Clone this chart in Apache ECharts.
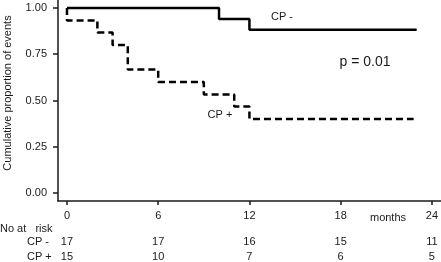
<!DOCTYPE html>
<html>
<head>
<meta charset="utf-8">
<script src="https://cdn.jsdelivr.net/npm/echarts@6/dist/echarts.min.js"></script>
<style>
  html, body { margin: 0; padding: 0; background: #fff; }
  #chart { width: 441px; height: 262px; }
</style>
</head>
<body>
<div id="chart"></div>
<script>
// months shown on the x axis and the y tick values
const monthTicks = [0, 6, 12, 18, 24];
const yTicks = [0, 0.25, 0.5, 0.75, 1];

// Kaplan-Meier steps: [month, proportion]
const cpNeg = [[0, 1], [10, 0.941], [12, 0.882], [23, 0.882]];
const cpPos = [[0, 1], [0, 0.933], [2, 0.867], [3, 0.8], [4, 0.667], [6, 0.6],
  [9, 0.533], [11, 0.467], [12, 0.4], [22.8, 0.4]];

// numbers at risk at each tick month
const riskNeg = [17, 17, 16, 15, 11];
const riskPos = [15, 10, 7, 6, 5];

const font = "Liberation Sans";
const ink = "#1a1a1a";

const chart = echarts.init(document.getElementById("chart"));

function riskAxis(values, offset) {
  return {
    type: "value",
    gridIndex: 0,
    position: "bottom",
    min: -0.59,
    max: 24.59,
    offset: offset,
    axisLine: { show: false },
    axisTick: { show: false },
    splitLine: { show: false },
    axisLabel: {
      customValues: monthTicks,
      margin: 9,
      color: ink,
      fontFamily: font,
      fontSize: 11,
      formatter: (v) => {
        const i = monthTicks.indexOf(v);
        return i >= 0 ? String(values[i]) : "";
      },
    },
  };
}

const option = {
  animation: false,
  grid: { left: 58, right: 0, top: 0, bottom: 61 },
  xAxis: [
    {
      type: "value",
      min: -0.59,
      max: 24.59,
      axisLine: { onZero: false, lineStyle: { color: ink, width: 1.5 } },
      axisTick: { customValues: monthTicks, length: 4, lineStyle: { color: ink, width: 1.5 } },
      splitLine: { show: false },
      axisLabel: {
        customValues: monthTicks,
        margin: 9,
        color: ink,
        fontFamily: font,
        fontSize: 11,
      },
    },
    riskAxis(riskNeg, 26),
    riskAxis(riskPos, 41),
  ],
  yAxis: {
    type: "value",
    min: -0.0432,
    max: 1.0432,
    axisLine: { onZero: false, lineStyle: { color: ink, width: 1.5 } },
    axisTick: { customValues: yTicks, length: 5, lineStyle: { color: ink, width: 1.5 } },
    splitLine: { show: false },
    axisLabel: {
      customValues: yTicks,
      margin: 11,
      color: ink,
      fontFamily: font,
      fontSize: 11,
      formatter: (v) => v.toFixed(2),
    },
  },
  series: [
    {
      name: "CP -",
      type: "line",
      step: "end",
      data: cpNeg,
      showSymbol: false,
      lineStyle: { color: "#000", width: 2.5 },
    },
    {
      name: "CP +",
      type: "line",
      step: "end",
      data: cpPos,
      showSymbol: false,
      lineStyle: { color: "#000", width: 2.5, type: [7, 4] },
    },
  ],
  graphic: [
    {
      type: "text",
      x: 8, y: 93, rotation: Math.PI / 2,
      style: { text: "Cumulative proportion of events", font: "11px " + font, fill: ink, align: "center", verticalAlign: "middle" },
    },
    { type: "text", x: 282, y: 17, style: { text: "CP -", font: "11px " + font, fill: ink, align: "center", verticalAlign: "middle" } },
    { type: "text", x: 220, y: 115, style: { text: "CP +", font: "11px " + font, fill: ink, align: "center", verticalAlign: "middle" } },
    { type: "text", x: 365, y: 62, style: { text: "p = 0.01", font: "14px " + font, fill: ink, align: "center", verticalAlign: "middle" } },
    { type: "text", x: 388, y: 218, style: { text: "months", font: "11px " + font, fill: ink, align: "center", verticalAlign: "middle" } },
    { type: "text", x: 0, y: 229, style: { text: "No at   risk", font: "11px " + font, fill: ink, align: "left", verticalAlign: "middle" } },
    { type: "text", x: 27, y: 242, style: { text: "CP -", font: "11px " + font, fill: ink, align: "left", verticalAlign: "middle" } },
    { type: "text", x: 27, y: 257, style: { text: "CP +", font: "11px " + font, fill: ink, align: "left", verticalAlign: "middle" } },
  ],
};

chart.setOption(option);
</script>
</body>
</html>
